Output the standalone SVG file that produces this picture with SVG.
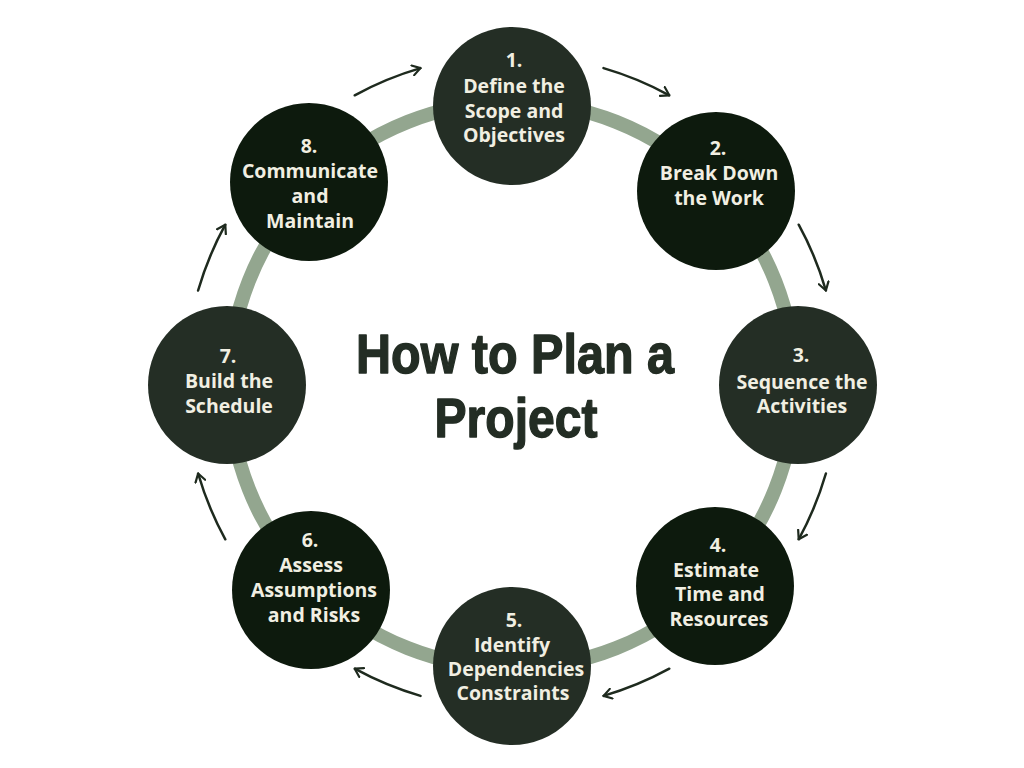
<svg xmlns="http://www.w3.org/2000/svg" width="1024" height="768" viewBox="0 0 1024 768">
<defs>
<marker id="ah" viewBox="0 0 10 12" refX="9" refY="6" markerWidth="10" markerHeight="12" markerUnits="userSpaceOnUse" orient="auto">
<path d="M1,1 L9,6 L1,11" fill="none" stroke="#1e2a1e" stroke-width="2.2" stroke-linecap="round" stroke-linejoin="round"/>
</marker>
</defs>
<style>
.odd{fill:#242e25}
.even{fill:#0d1a0d}
.lbl{font-family:"Open Sans","Liberation Sans",sans-serif;font-weight:700;font-size:19.5px;fill:#f1efe2;text-anchor:middle}
.arr{fill:none;stroke:#1e2a1e;stroke-width:2.5;stroke-linecap:round;marker-end:url(#ah)}
.title{font-family:"Liberation Sans",Arial,sans-serif;font-weight:700;font-size:56px;fill:#232d24;stroke:#232d24;stroke-width:1.4;stroke-linejoin:round;text-anchor:middle}
</style>
<rect width="1024" height="768" fill="#ffffff"/>
<circle cx="512" cy="385" r="283" fill="none" stroke="#93a68f" stroke-width="14"/>
<g id="connectors">
<path class="arr" d="M354.7,95.3 A327,327 0 0 1 420.5,68.1"/>
<path class="arr" d="M603.5,68.1 A327,327 0 0 1 669.3,95.3"/>
<path class="arr" d="M798.7,224.7 A327,327 0 0 1 825.9,290.5"/>
<path class="arr" d="M825.9,473.5 A327,327 0 0 1 798.7,539.3"/>
<path class="arr" d="M669.3,668.7 A327,327 0 0 1 603.5,695.9"/>
<path class="arr" d="M420.5,695.9 A327,327 0 0 1 354.7,668.7"/>
<path class="arr" d="M225.3,539.3 A327,327 0 0 1 198.1,473.5"/>
<path class="arr" d="M198.1,290.5 A327,327 0 0 1 225.3,224.7"/>
</g>
<g id="title">
<text class="title" x="515" y="373" textLength="318" lengthAdjust="spacingAndGlyphs">How to Plan a</text>
<text class="title" x="516" y="437" textLength="163" lengthAdjust="spacingAndGlyphs">Project</text>
</g>
<g id="node1">
<circle class="odd" cx="512" cy="106" r="79"/>
<text class="lbl" x="514" y="67">1.</text>
<text class="lbl" x="514" y="93">Define the</text>
<text class="lbl" x="514" y="118">Scope and</text>
<text class="lbl" x="514" y="142">Objectives</text>
</g>
<g id="node2">
<circle class="even" cx="716" cy="191" r="79"/>
<text class="lbl" x="718" y="155">2.</text>
<text class="lbl" x="719" y="180">Break Down</text>
<text class="lbl" x="719" y="205">the Work</text>
</g>
<g id="node3">
<circle class="odd" cx="798" cy="385" r="79"/>
<text class="lbl" x="801" y="362">3.</text>
<text class="lbl" x="802" y="389">Sequence the</text>
<text class="lbl" x="802" y="413">Activities</text>
</g>
<g id="node4">
<circle class="even" cx="715" cy="586" r="79"/>
<text class="lbl" x="718" y="552">4.</text>
<text class="lbl" x="716" y="577">Estimate</text>
<text class="lbl" x="720" y="601">Time and</text>
<text class="lbl" x="719" y="626">Resources</text>
</g>
<g id="node5">
<circle class="odd" cx="512" cy="666" r="79"/>
<text class="lbl" x="514" y="627">5.</text>
<text class="lbl" x="512" y="652">Identify</text>
<text class="lbl" x="516" y="676">Dependencies</text>
<text class="lbl" x="513" y="700">Constraints</text>
</g>
<g id="node6">
<circle class="even" cx="311" cy="590" r="79"/>
<text class="lbl" x="310" y="547">6.</text>
<text class="lbl" x="311" y="572">Assess</text>
<text class="lbl" x="314" y="597">Assumptions</text>
<text class="lbl" x="314" y="622">and Risks</text>
</g>
<g id="node7">
<circle class="odd" cx="227" cy="385" r="79"/>
<text class="lbl" x="228" y="363">7.</text>
<text class="lbl" x="229" y="388">Build the</text>
<text class="lbl" x="229" y="413">Schedule</text>
</g>
<g id="node8">
<circle class="even" cx="309" cy="182" r="79"/>
<text class="lbl" x="309" y="153">8.</text>
<text class="lbl" x="310" y="178">Communicate</text>
<text class="lbl" x="310" y="203">and</text>
<text class="lbl" x="310" y="228">Maintain</text>
</g>
</svg>
